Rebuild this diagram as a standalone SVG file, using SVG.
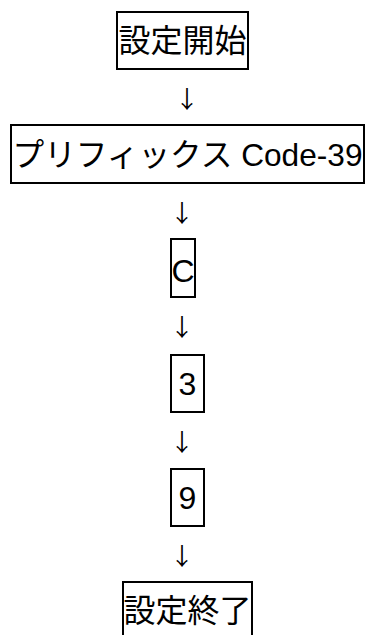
<svg xmlns="http://www.w3.org/2000/svg" width="371" height="635" viewBox="0 0 371 635">
<style>
.box{fill:#fff;stroke:#000;stroke-width:2}
.t{font-family:"Liberation Sans","Noto Sans CJK JP",sans-serif;font-size:32px;fill:#000;text-anchor:middle}
.ar{font-family:"Noto Sans CJK JP","DejaVu Sans",sans-serif;font-size:24px;fill:#000;text-anchor:middle}
</style>
<rect width="371" height="635" fill="#fff"/>
<g id="connectors">
<text class="ar" x="187" y="108">↓</text>
<text class="ar" x="182" y="222">↓</text>
<text class="ar" x="182" y="336">↓</text>
<text class="ar" x="182" y="451">↓</text>
<text class="ar" x="182" y="565">↓</text>
</g>
<g id="start">
<rect class="box" x="117" y="12" width="131" height="57"/>
<text class="t" x="182.5" y="52">設定開始</text>
</g>
<g id="prefix">
<rect class="box" x="11" y="125" width="353" height="58"/>
<text class="t" x="187.5" y="166" textLength="350" lengthAdjust="spacingAndGlyphs">プリフィックス Code-39</text>
</g>
<g id="c">
<rect class="box" x="171" y="239" width="24" height="58"/>
<text class="t" x="183" y="282">C</text>
</g>
<g id="n3">
<rect class="box" x="171" y="355" width="33" height="57"/>
<text class="t" x="187.5" y="395">3</text>
</g>
<g id="n9">
<rect class="box" x="171" y="469" width="33" height="57"/>
<text class="t" x="187.5" y="509">9</text>
</g>
<g id="end">
<rect class="box" x="123" y="582" width="129" height="57"/>
<text class="t" x="187.5" y="622">設定終了</text>
</g>
</svg>
